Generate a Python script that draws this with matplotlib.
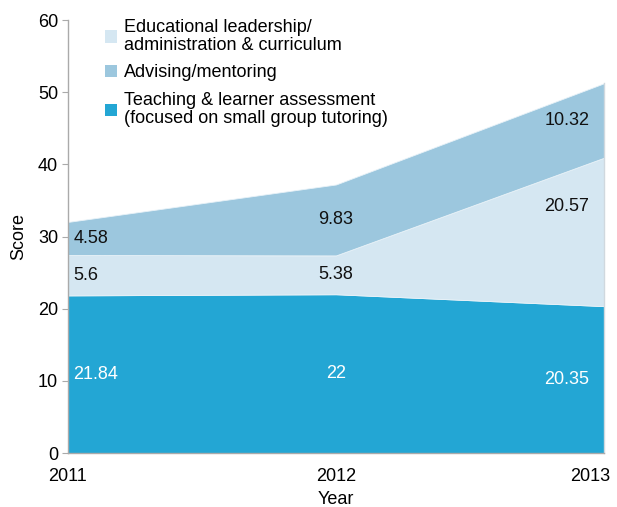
import matplotlib
matplotlib.use("Agg")
import matplotlib.pyplot as plt
import matplotlib.transforms as mtransforms
from matplotlib.patches import Patch
import numpy as np

years = [2011, 2012, 2013]
teaching = [21.84, 22, 20.35]
educational = [5.6, 5.38, 20.57]
advising = [4.58, 9.83, 10.32]

series_names = ["Teaching & learner assessment\n(focused on small group tutoring)",
                "Educational leadership/\nadministration & curriculum",
                "Advising/mentoring"]
colors = ["#23A6D4", "#D5E7F2", "#9CC7DE"]
label_colors = ["white", "#111111", "#111111"]

FS = 13
plt.rcParams['font.family'] = ['Liberation Sans', 'DejaVu Sans']
fig = plt.figure(figsize=(6.17, 5.07), dpi=100)
ax = fig.add_axes([0.110, 0.1065, 0.869, 0.854])

data = [teaching, educational, advising]
x = np.arange(len(years))
ax.stackplot(x, *data, colors=colors, edgecolor="#e8f2f8", linewidth=0.6)
ax.plot([x[-1], x[-1]], [0, sum(d[-1] for d in data)], color="#d0d8de",
        linewidth=1.0, clip_on=False)

bottoms = np.zeros(len(years))
for si, vals in enumerate(data):
    vals = np.array(vals)
    for i in range(len(years)):
        frac = 0.5
        if si == 1 and i == 2:
            frac = 0.67
        yy = bottoms[i] + vals[i] * frac
        ha = ["left", "center", "right"][i]
        xo = [0.02, 0.0, -0.055][i]
        ax.text(x[i] + xo, yy, f"{vals[i]:g}", ha=ha, va="center",
                color=label_colors[si], fontsize=FS)
    bottoms += vals

ax.set_xlim(0, 2)
ax.set_ylim(0, 60)
ax.set_yticks(range(0, 61, 10))
ax.set_xticks(x)
ax.set_xticklabels([str(y) for y in years])
ax.tick_params(axis='y', length=4, color="#aaaaaa", labelsize=FS, pad=3)
ax.tick_params(axis='x', length=0, labelsize=FS, pad=11)
last = ax.get_xticklabels()[-1]
last.set_transform(last.get_transform() +
                   mtransforms.ScaledTranslation(-0.14, 0, fig.dpi_scale_trans))
ax.set_xlabel("Year", fontsize=FS, labelpad=4)
ax.set_ylabel("Score", fontsize=FS, labelpad=8)
for s in ["top", "right"]:
    ax.spines[s].set_visible(False)
for s in ["left", "bottom"]:
    ax.spines[s].set_color("#aaaaaa")
    ax.spines[s].set_linewidth(1.0)

handles = [Patch(facecolor=colors[1], edgecolor="none"),
           Patch(facecolor=colors[2], edgecolor="none"),
           Patch(facecolor=colors[0], edgecolor="none")]
labels = [series_names[1], series_names[2], series_names[0]]
leg = ax.legend(handles, labels, loc="upper left", bbox_to_anchor=(0.055, 1.02),
                frameon=False, fontsize=FS, handlelength=0.7, handleheight=0.7,
                handletextpad=0.4, labelspacing=0.6, borderaxespad=0)
for t in leg.get_texts():
    t.set_linespacing(1.08)

fig.savefig("out.png", dpi=100)
